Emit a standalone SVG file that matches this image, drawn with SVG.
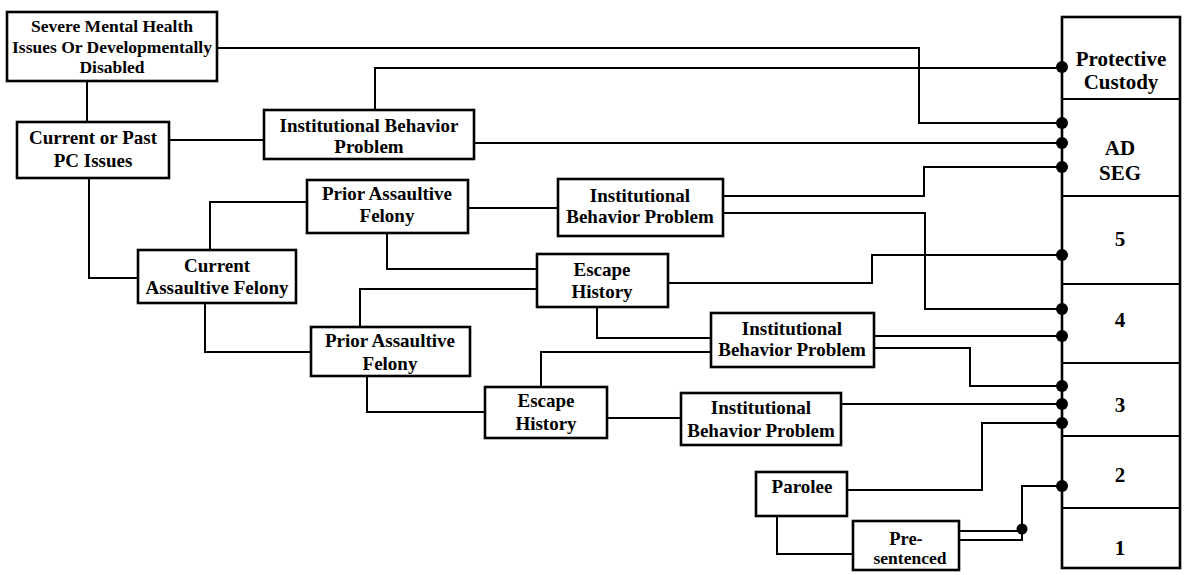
<svg xmlns="http://www.w3.org/2000/svg" width="1188" height="575" viewBox="0 0 1188 575">
  <style>
    .box { fill: #ffffff; stroke: #000000; stroke-width: 2.6; }
    .wire { fill: none; stroke: #000000; stroke-width: 2; }
    .dot { fill: #000000; }
    text { font-family: "Liberation Serif", "Times New Roman", serif; font-weight: bold; fill: #000000; text-anchor: middle; }
    .t { font-size: 19px; }
    .s { font-size: 17.5px; }
    .c { font-size: 21px; }
  </style>
  <rect width="1188" height="575" fill="#ffffff"/>

  <!-- custody level column -->
  <g id="levels">
    <rect class="box" x="1062" y="17" width="118" height="551"/>
    <path class="wire" d="M1062,99 H1180 M1062,196 H1180 M1062,284 H1180 M1062,363 H1180 M1062,436 H1180 M1062,508 H1180" stroke-width="2.4"/>
    <text class="c" x="1121" y="66">Protective</text>
    <text class="c" x="1121" y="89">Custody</text>
    <text class="c" x="1120" y="155">AD</text>
    <text class="c" x="1120" y="180">SEG</text>
    <text class="c" x="1120" y="246">5</text>
    <text class="c" x="1120" y="327">4</text>
    <text class="c" x="1120" y="412">3</text>
    <text class="c" x="1120" y="482">2</text>
    <text class="c" x="1120" y="555">1</text>
  </g>

  <!-- connectors -->
  <g id="connectors">
    <path class="wire" d="M217,48 H919 V123 H1062"/>
    <path class="wire" d="M375,110 V68 H1062"/>
    <path class="wire" d="M87,81 V122"/>
    <path class="wire" d="M169,140 H264"/>
    <path class="wire" d="M474,143 H1062"/>
    <path class="wire" d="M89,178 V278 H138"/>
    <path class="wire" d="M210,250 V202 H307"/>
    <path class="wire" d="M205,303 V352 H311"/>
    <path class="wire" d="M468,208 H558"/>
    <path class="wire" d="M723,196 H924 V167 H1062"/>
    <path class="wire" d="M723,213 H925 V309 H1062"/>
    <path class="wire" d="M387,233 V269 H537"/>
    <path class="wire" d="M360,327 V289 H537"/>
    <path class="wire" d="M668,283 H872 V255 H1062"/>
    <path class="wire" d="M597,307 V338 H711"/>
    <path class="wire" d="M874,336 H1062"/>
    <path class="wire" d="M874,348 H970 V386 H1062"/>
    <path class="wire" d="M711,352 H541 V387"/>
    <path class="wire" d="M367,376 V412 H485"/>
    <path class="wire" d="M607,418 H681"/>
    <path class="wire" d="M841,404 H1062"/>
    <path class="wire" d="M847,490 H982 V423 H1062"/>
    <path class="wire" d="M777,516 V554 H853"/>
    <path class="wire" d="M959,531 H1022"/>
    <path class="wire" d="M959,540 H1022 V486 H1062"/>
    <!-- junction dots -->
    <circle class="dot" cx="1062" cy="67" r="6"/>
    <circle class="dot" cx="1062" cy="123" r="6"/>
    <circle class="dot" cx="1062" cy="143" r="6"/>
    <circle class="dot" cx="1062" cy="167" r="6"/>
    <circle class="dot" cx="1062" cy="255" r="6"/>
    <circle class="dot" cx="1062" cy="309" r="6"/>
    <circle class="dot" cx="1062" cy="336" r="6"/>
    <circle class="dot" cx="1062" cy="386" r="6"/>
    <circle class="dot" cx="1062" cy="404" r="6"/>
    <circle class="dot" cx="1062" cy="423" r="6"/>
    <circle class="dot" cx="1062" cy="486" r="6"/>
    <circle class="dot" cx="1022" cy="529" r="5.5"/>
  </g>

  <g id="severe-mental-health">
    <rect class="box" x="7" y="12" width="210" height="69"/>
    <text class="s" x="112" y="32">Severe Mental Health</text>
    <text class="s" x="112" y="53">Issues Or Developmentally</text>
    <text class="s" x="112" y="73">Disabled</text>
  </g>

  <g id="pc-issues">
    <rect class="box" x="17" y="122" width="152" height="56"/>
    <text class="t" x="93" y="144">Current or Past</text>
    <text class="t" x="93" y="167">PC Issues</text>
  </g>

  <g id="behavior-a">
    <rect class="box" x="264" y="110" width="210" height="49"/>
    <text class="t" x="369" y="132">Institutional Behavior</text>
    <text class="t" x="369" y="153">Problem</text>
  </g>

  <g id="prior-assault-a">
    <rect class="box" x="307" y="180" width="161" height="53"/>
    <text class="t" x="387" y="200">Prior Assaultive</text>
    <text class="t" x="387" y="222">Felony</text>
  </g>

  <g id="behavior-b">
    <rect class="box" x="558" y="179" width="165" height="57"/>
    <text class="t" x="640" y="202">Institutional</text>
    <text class="t" x="640" y="223">Behavior Problem</text>
  </g>

  <g id="current-assault">
    <rect class="box" x="138" y="250" width="158" height="53"/>
    <text class="t" x="217" y="272">Current</text>
    <text class="t" x="217" y="294">Assaultive Felony</text>
  </g>

  <g id="escape-a">
    <rect class="box" x="537" y="254" width="131" height="53"/>
    <text class="t" x="602" y="276">Escape</text>
    <text class="t" x="602" y="298">History</text>
  </g>

  <g id="prior-assault-b">
    <rect class="box" x="311" y="327" width="159" height="49"/>
    <text class="t" x="390" y="347">Prior Assaultive</text>
    <text class="t" x="390" y="370">Felony</text>
  </g>

  <g id="behavior-c">
    <rect class="box" x="711" y="313" width="163" height="54"/>
    <text class="t" x="792" y="335">Institutional</text>
    <text class="t" x="792" y="356">Behavior Problem</text>
  </g>

  <g id="escape-b">
    <rect class="box" x="485" y="387" width="122" height="51"/>
    <text class="t" x="546" y="407">Escape</text>
    <text class="t" x="546" y="430">History</text>
  </g>

  <g id="behavior-d">
    <rect class="box" x="681" y="393" width="160" height="52"/>
    <text class="t" x="761" y="414">Institutional</text>
    <text class="t" x="761" y="437">Behavior Problem</text>
  </g>

  <g id="parolee">
    <rect class="box" x="756" y="472" width="91" height="44"/>
    <text class="t" x="802" y="493">Parolee</text>
  </g>

  <g id="pre-sentenced">
    <rect class="box" x="853" y="521" width="106" height="49"/>
    <text x="906" y="545" style="font-size:18.5px">Pre-</text>
    <text x="910" y="564" style="font-size:17.5px">sentenced</text>
  </g>
</svg>
